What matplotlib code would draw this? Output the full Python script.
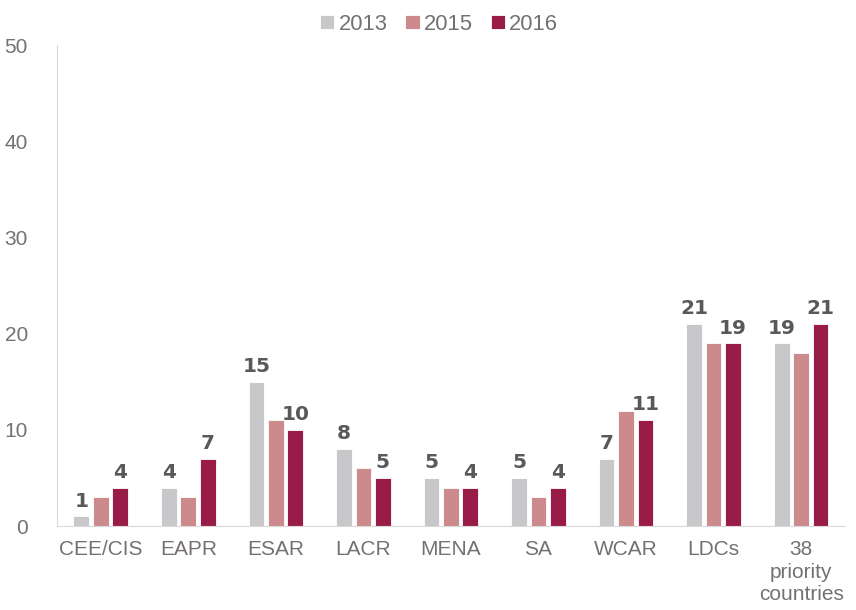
import numpy as np
import matplotlib
matplotlib.use('Agg')
import matplotlib.pyplot as plt

categories = ['CEE/CIS', 'EAPR', 'ESAR', 'LACR', 'MENA', 'SA', 'WCAR', 'LDCs', '38\npriority\ncountries']
years = ['2013', '2015', '2016']
vals_2013 = [1, 4, 15, 8, 5, 5, 7, 21, 19]
vals_2015 = [3, 3, 11, 6, 4, 3, 12, 19, 18]
vals_2016 = [4, 7, 10, 5, 4, 4, 11, 19, 21]

colors = ['#C8C8CA', '#CC8A8C', '#981B48']
label_color = '#595959'
tick_color = '#767171'

plt.rcParams['font.family'] = ['Liberation Sans', 'DejaVu Sans']

fig = plt.figure(figsize=(8.56, 6.10), dpi=100)
ax = fig.add_axes([0.0666, 0.1377, 0.9204, 0.7883])

x = np.arange(len(categories))
step = 0.222
width = 0.18
series = [vals_2013, vals_2015, vals_2016]
for i, (vals, c, yr) in enumerate(zip(series, colors, years)):
    bars = ax.bar(x + (i - 1) * step, vals, width, color=c, edgecolor='white',
                  linewidth=0.6, label=yr)
    if yr != '2015':
        for b, v in zip(bars, vals):
            ax.text(b.get_x() + b.get_width() / 2, v + 0.6, str(v),
                    ha='center', va='bottom', fontsize=14.5, fontweight='heavy',
                    family='DejaVu Sans', color=label_color)

ax.set_xlim(-0.5, len(categories) - 0.5)
ax.set_ylim(0, 50)
ax.set_yticks(range(0, 51, 10))
ax.set_xticks(x)
ax.set_xticklabels(categories, linespacing=1.25)
ax.tick_params(axis='both', length=0, colors=tick_color, labelsize=15)
ax.tick_params(axis='x', pad=10)
ax.tick_params(axis='y', pad=21)
for lbl in ax.get_yticklabels():
    lbl.set_horizontalalignment('right')

for s in ['top', 'right']:
    ax.spines[s].set_visible(False)
ax.spines['left'].set_color('#D9D9D9')
ax.spines['bottom'].set_color('#D9D9D9')

leg = fig.legend(loc='upper center', bbox_to_anchor=(0.513, 1.01), ncol=3,
                 frameon=False, fontsize=15.8, handlelength=0.65, handleheight=0.65,
                 handletextpad=0.2, columnspacing=0.8)
for t in leg.get_texts():
    t.set_color(tick_color)

fig.savefig('out.png', dpi=100)
